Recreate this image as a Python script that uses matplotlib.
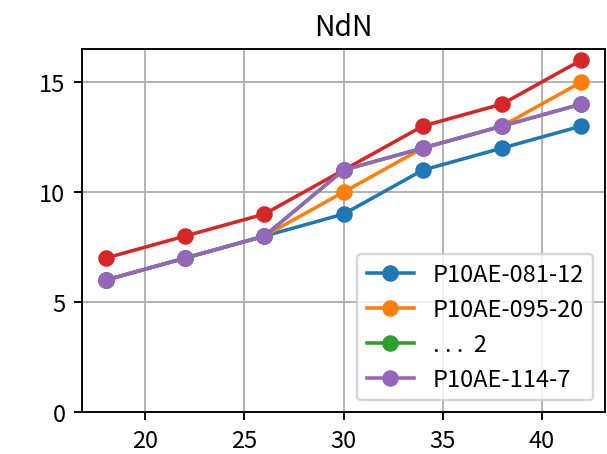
import matplotlib
matplotlib.use('Agg')
import matplotlib.pyplot as plt

plt.rcParams['font.family'] = ['Noto Sans CJK JP', 'DejaVu Sans']

# data
x = [18, 22, 26, 30, 34, 38, 42]
blue = [6, 7, 8, 9, 11, 12, 13]
orange = [6, 7, 8, 10, 12, 13, 15]
green = [6, 7, 8, 11, 12, 13, 14]
red = [7, 8, 9, 11, 13, 14, 16]
purple = [6, 7, 8, 11, 12, 13, 14]
labels = ['P10AE-081-12', 'P10AE-095-20', '. . .  2', '_nolegend_', 'P10AE-114-7']

DPI = 170
fig, ax = plt.subplots(figsize=(607 / DPI, 455 / DPI), dpi=DPI)
for ys, lab in zip([blue, orange, green, red, purple], labels):
    ax.plot(x, ys, marker='o', label=lab)

ax.set_ylim(bottom=0)
ax.set_yticks([0, 5, 10, 15])
ax.grid(True)
ax.set_title('NdN')
ax.legend(loc='lower right')

fig.subplots_adjust(left=0.135, right=0.997, top=0.89, bottom=0.092)
fig.savefig('out.png', dpi=DPI)
